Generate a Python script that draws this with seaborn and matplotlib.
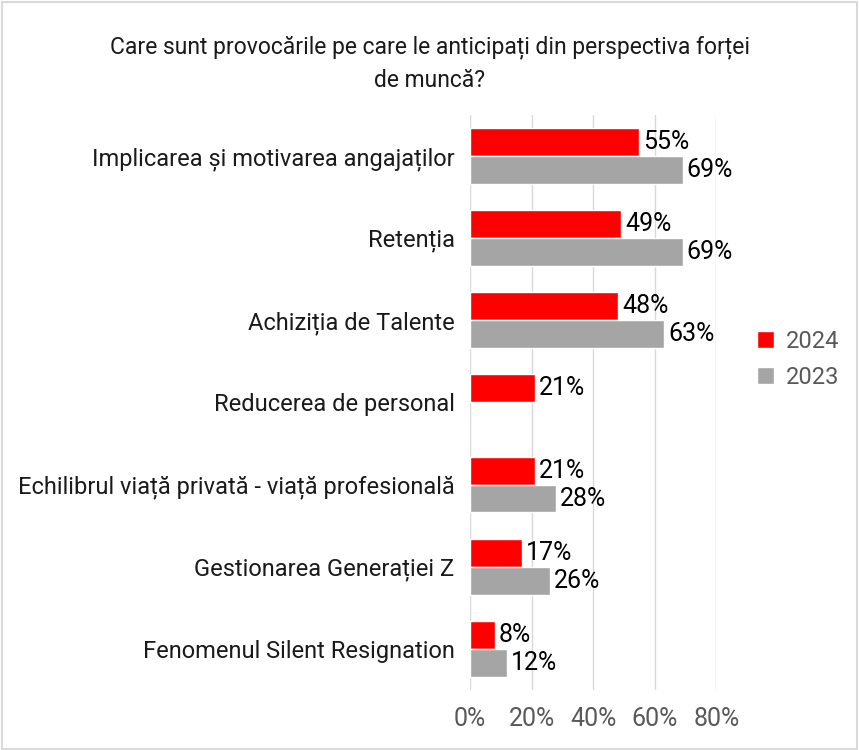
import pandas as pd
import matplotlib.pyplot as plt
import seaborn as sns
import numpy as np

categories = [
    "Implicarea și motivarea angajaților",
    "Retenția",
    "Achiziția de Talente",
    "Reducerea de personal",
    "Echilibrul viață privată - viață profesională",
    "Gestionarea Generației Z",
    "Fenomenul Silent Resignation",
]
values_2024 = [55, 49, 48, 21, 21, 17, 8]
values_2023 = [69, 69, 63, np.nan, 28, 26, 12]
years = ["2024", "2023"]
ticks = [0, 20, 40, 60, 80]

df = pd.DataFrame({
    "cat": categories * 2,
    "val": values_2024 + values_2023,
    "year": [years[0]] * len(categories) + [years[1]] * len(categories),
})

sns.set_style("white")
plt.rcParams["font.family"] = ["Roboto", "DejaVu Sans"]

fig = plt.figure(figsize=(8.59, 7.5), dpi=100)
ax = fig.add_axes([0.547, 0.08, 0.287, 0.767])

sns.barplot(data=df, y="cat", x="val", hue="year", hue_order=years, orient="h",
            palette={"2024": "#FF0000", "2023": "#A5A5A5"}, saturation=1,
            width=0.68, gap=0, ax=ax, zorder=3)

for c in ax.containers:
    ax.bar_label(c, fmt="%.0f%%", padding=3, fontsize=18, color="black", clip_on=False)

ax.set_xlim(0, 80)
ax.set_xticks(ticks)
ax.set_xticklabels([f"{t}%" for t in ticks], fontsize=18, color="#595959")
ax.tick_params(axis="x", length=0, pad=12)
ax.tick_params(axis="y", length=0, pad=11, labelsize=17, labelcolor="#1a1a1a")
ax.grid(axis="x", color="#d9d9d9", linewidth=1, zorder=0)
ax.set_xlabel("")
ax.set_ylabel("")
for s in ax.spines.values():
    s.set_visible(False)

leg = ax.legend(loc="center left", bbox_to_anchor=(1.08, 0.575), frameon=False,
                fontsize=17, handlelength=0.7, handleheight=0.7, handletextpad=0.5,
                labelspacing=0.55)
for t in leg.get_texts():
    t.set_color("#595959")

fig.text(0.5, 0.915, "Care sunt provocările pe care le anticipați din perspectiva forței\nde muncă?",
         ha="center", va="center", fontsize=16.5, color="#1a1a1a", linespacing=1.55)

fig.patches.append(plt.Rectangle((0.002, 0.002), 0.996, 0.996, transform=fig.transFigure,
                                 fill=False, edgecolor="#d9d9d9", linewidth=1.5))

fig.savefig("out.png", dpi=100)
